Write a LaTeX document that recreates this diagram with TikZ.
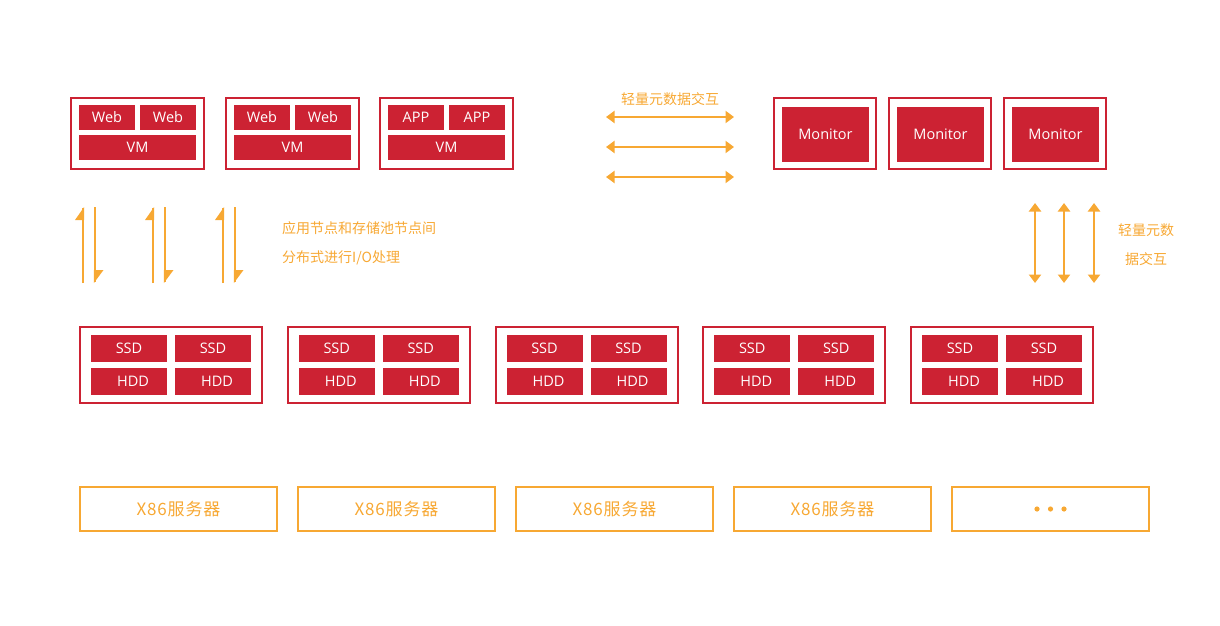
\documentclass[tikz,border=0pt]{standalone}
\usepackage{fontspec}
\setmainfont{Open Sans}
\newfontfamily\cjk{Noto Sans CJK SC}
\newfontfamily\cjkls[LetterSpace=5]{Noto Sans CJK SC}
\usetikzlibrary{arrows.meta,calc}
\definecolor{dred}{HTML}{CC2233}
\definecolor{orng}{HTML}{F7A833}
\begin{document}
\begin{tikzpicture}[x=1pt,y=-1pt,
 redframe/.style={draw=dred,line width=2pt,anchor=north west,inner sep=0pt},
 cell/.style={fill=dred,text=white,anchor=north west,inner sep=0pt,outer sep=0pt,font=\fontsize{14.5}{16}\selectfont},
 servbox/.style={draw=orng,line width=2pt,anchor=north west,inner sep=0pt,text=orng,font=\cjkls\fontsize{17}{19}\selectfont},
 lbl/.style={text=orng,font=\cjk\fontsize{14}{16}\selectfont,inner sep=0pt},
 dbl/.style={draw=orng,line width=2.2pt,{Triangle[length=8.5pt,width=12pt]}-{Triangle[length=8.5pt,width=12pt]}},
 half/.style={draw=orng,line width=2.2pt},
 headfill/.style={fill=orng}]
\useasboundingbox (0,0) rectangle (1220,626);
% top application boxes
\foreach \x/\a/\n in {70/Web/1,225/Web/2,379/APP/3}{
  \node[redframe,minimum width=133pt,minimum height=71pt] (top\n) at (\x,97) {};
  \node[cell,minimum width=56pt,minimum height=25pt] (top\n a) at (\x+9,105) {\a};
  \node[cell,minimum width=56pt,minimum height=25pt] (top\n b) at (\x+70,105) {\a};
  \node[cell,minimum width=117pt,minimum height=25pt] (top\n v) at (\x+9,135) {VM};
}
% monitor boxes
\foreach \x/\n in {773/1,888/2,1003/3}{
  \node[redframe,minimum width=102pt,minimum height=71pt] (mon\n) at (\x,97) {};
  \node[cell,minimum width=87pt,minimum height=55pt] (mon\n c) at (\x+9,107) {Monitor};
}
% storage boxes
\foreach \i in {0,...,4}{
  \pgfmathsetmacro{\x}{79+207.75*\i}
  \node[redframe,minimum width=182pt,minimum height=76pt] (st\i) at (\x,326) {};
  \node[cell,minimum width=76pt,minimum height=27pt] (st\i a) at (\x+12,335) {SSD};
  \node[cell,minimum width=76pt,minimum height=27pt] (st\i b) at (\x+96,335) {SSD};
  \node[cell,minimum width=76pt,minimum height=27pt] (st\i c) at (\x+12,368) {\hspace{8pt}HDD};
  \node[cell,minimum width=76pt,minimum height=27pt] (st\i d) at (\x+96,368) {\hspace{8pt}HDD};
}
% servers
\foreach \i in {0,...,3}{
  \node[servbox,minimum width=197pt,minimum height=44pt] (sv\i) at (79+218*\i,486) {X86服务器};
}
\node[servbox,minimum width=197pt,minimum height=44pt] (sv4) at (951,486) {};
\foreach \dx in {-13.5,0,13.5}{
  \fill[orng] ($(sv4.center)+(\dx,0)$) circle (2.6pt);
}
% half arrows (application <-> storage)
\foreach \i in {0,1,2}{
  \pgfmathsetmacro{\ux}{83+70*\i}
  \pgfmathsetmacro{\dx}{95+70*\i}
  \coordinate (ua\i) at (\ux,283);
  \coordinate (ub\i) at (\ux,208);
  \coordinate (da\i) at (\dx,207);
  \coordinate (db\i) at (\dx,282);
  \draw[half] (ua\i) -- (ub\i);
  \fill[orng] (\ux+1.1,207) -- (\ux-8,220) -- (\ux+1.1,220) -- cycle;
  \draw[half] (da\i) -- (db\i);
  \fill[orng] (\dx-1.1,283) -- (\dx+8.5,270) -- (\dx-1.1,270) -- cycle;
}
\node[lbl,anchor=west] (io1) at (282,228) {应用节点和存储池节点间};
\node[lbl,anchor=west] (io2) at (282,258) {分布式进行I/O处理};
% horizontal double arrows
\node[lbl] (hl) at (670,99) {轻量元数据交互};
\foreach \y/\n in {117/1,147/2,177/3}{
  \coordinate (hl\n) at (606,\y);
  \coordinate (hr\n) at (734,\y);
  \draw[dbl] (hl\n) -- (hr\n);
}
% vertical double arrows
\foreach \x/\n in {1035/1,1064/2,1094/3}{
  \coordinate (vt\n) at (\x,203);
  \coordinate (vb\n) at (\x,283);
  \draw[dbl] (vt\n) -- (vb\n);
}
\node[lbl] (vl1) at (1146,230) {轻量元数};
\node[lbl] (vl2) at (1146,259) {据交互};
\end{tikzpicture}
\end{document}
